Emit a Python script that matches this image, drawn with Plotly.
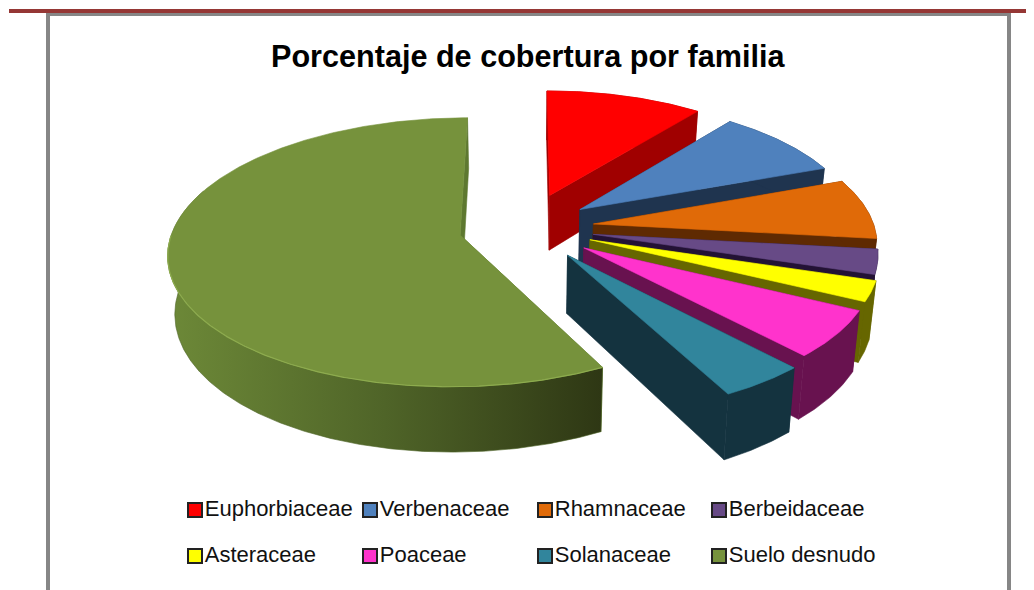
import numpy as np
import plotly.graph_objects as go

# ---- data ----
categories = ["Euphorbiaceae", "Verbenaceae", "Rhamnaceae", "Berbeidaceae",
              "Asteraceae", "Poaceae", "Solanaceae", "Suelo desnudo"]
values = [10.6, 8.7, 7.5, 3.05, 2.5, 5.8, 4.2, 57.65]
title_text = "Porcentaje de cobertura por familia"

# ---- style ----
top_colors = ["#ff0000", "#4f81bd", "#e06a08", "#674a86", "#ffff00", "#ff33cc", "#31859c", "#76923c"]
wall_colors = ["#a00000", "#1f344f", "#5f2a02", "#231235", "#666600", "#68124f", "#14333f", "#5e7830"]
green_rim = [[0, "#6d8938"], [0.5, "#4f6428"], [1, "#2e3714"]]

# ---- projection of the exploded 3D pie onto the page ----
EXPLODE = [0.27, 0.24, 0.24, 0.24, 0.24, 0.25, 0.25, 0.23]   # pie radii
RADIUS = [0.95, 0.97, 0.975, 0.97, 0.98, 0.975, 1.0, 0.995]
CX, CY = 525.0, 236.0   # page position of the pie's axis
PLAN_X, PLAN_Y = 0.232, 0.062
SX, SY, PERSP = 290.6, 133.2, 0.129
DEPTH = 57.0
BOTTOM_SHRINK = 0.98    # the lower face is further from the camera


def project(px, py, z=0.0):
    w = 1 + PERSP * py
    shrink = BOTTOM_SHRINK if z else 1.0
    return CX + shrink * SX * (px - PLAN_X) / w, CY - SY * py / w + z / w


fig = go.Figure()


def poly(xs, ys, color=None, gradient=None):
    kw = dict(fillgradient=gradient) if gradient else dict(fillcolor=color)
    fig.add_trace(go.Scatter(x=list(xs) + [xs[0]], y=list(ys) + [ys[0]], mode="lines",
                             fill="toself", line=dict(width=0.6, color=color or "#4f6428"),
                             hoverinfo="skip", showlegend=False, **kw))


total = sum(values)
angle = 0.0
for i, v in enumerate(values):
    span = 360.0 * v / total
    a0, a1 = np.radians(angle), np.radians(angle + span)
    mid = (a0 + a1) / 2
    ax = PLAN_X + EXPLODE[i] * np.sin(mid)
    ay = PLAN_Y + EXPLODE[i] * np.cos(mid)
    th = np.linspace(a0, a1, max(int(span * 2), 12))
    rx = ax + RADIUS[i] * np.sin(th)
    ry = ay + RADIUS[i] * np.cos(th)
    tx, ty = project(rx, ry)
    bx, by = project(rx, ry, DEPTH)
    atx, aty = project(np.array([ax]), np.array([ay]))
    abx, aby = project(np.array([ax]), np.array([ay]), DEPTH)
    # radial walls
    poly([atx[0], tx[0], bx[0], abx[0]], [aty[0], ty[0], by[0], aby[0]], wall_colors[i])
    poly([atx[0], tx[-1], bx[-1], abx[0]], [aty[0], ty[-1], by[-1], aby[0]], wall_colors[i])
    # rim wall
    if i == len(values) - 1:
        front = np.cos(th) < 0.35
        poly(np.concatenate([tx[front], bx[front][::-1]]),
             np.concatenate([ty[front], by[front][::-1]]),
             gradient=dict(type="horizontal", colorscale=green_rim))
    else:
        poly(np.concatenate([tx, bx[::-1]]), np.concatenate([ty, by[::-1]]), wall_colors[i])
    # top face
    poly(np.concatenate([atx, tx]), np.concatenate([aty, ty]), top_colors[i])
    if i == len(values) - 1:
        # light bevel along the front edge of the big slice
        fr = np.cos(th) < 0.0
        fig.add_trace(go.Scatter(x=tx[fr], y=ty[fr], mode="lines",
                                 line=dict(width=1.2, color="#8dab4e"),
                                 hoverinfo="skip", showlegend=False))
    angle += span

# ---- legend built from the categories ----
LEG_X = [195, 370, 545, 719]
LEG_Y = [510, 556]
for i, name in enumerate(categories):
    fig.add_trace(go.Scatter(
        x=[LEG_X[i % 4]], y=[LEG_Y[i // 4]], mode="markers+text", text=[name],
        textposition="middle right",
        textfont=dict(family="Liberation Sans", size=22, color="#111111"),
        marker=dict(symbol="square", size=14, color=top_colors[i], line=dict(width=2, color="#222222")),
        hoverinfo="skip", showlegend=False))

# The page keeps an 8 px body margin, so the figure starts at page position (8, 8).
fig.update_layout(
    width=1026, height=582, margin=dict(l=0, r=0, t=0, b=0),
    paper_bgcolor="white", plot_bgcolor="white",
    xaxis=dict(range=[8, 1034], visible=False, fixedrange=True),
    yaxis=dict(range=[590, 8], visible=False, fixedrange=True),
    annotations=[dict(x=528, y=56, xref="x", yref="y", text="<b>%s</b>" % title_text, showarrow=False,
                      font=dict(family="Liberation Sans", size=30.6, color="black"))],
    shapes=[
        dict(type="rect", xref="x", yref="y", x0=9, x1=1034, y0=9, y1=13, fillcolor="#953735", line_width=0, layer="below"),
        dict(type="rect", xref="x", yref="y", x0=46, x1=1011, y0=13, y1=16, fillcolor="#868686", line_width=0, layer="below"),
        dict(type="rect", xref="x", yref="y", x0=46, x1=50, y0=13, y1=590, fillcolor="#868686", line_width=0, layer="below"),
        dict(type="rect", xref="x", yref="y", x0=1007, x1=1011, y0=13, y1=590, fillcolor="#868686", line_width=0, layer="below"),
    ],
)
fig.write_html("out.html")
